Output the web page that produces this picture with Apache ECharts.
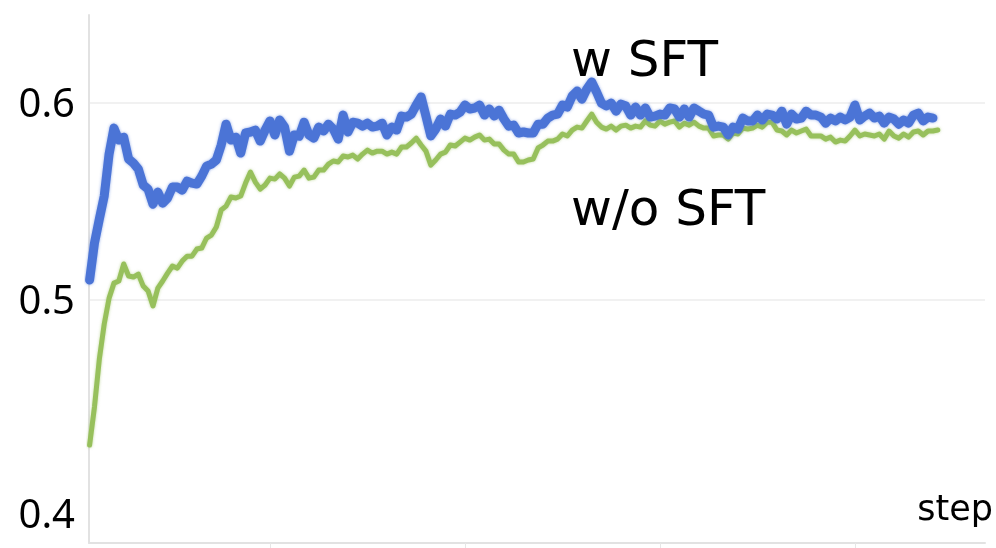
<!DOCTYPE html>
<html>
<head>
<meta charset="utf-8">
<script src="https://cdn.jsdelivr.net/npm/echarts@6/dist/echarts.min.js"></script>
<style>
html,body{margin:0;padding:0;background:#fff;}
#chart{width:996px;height:548px;}
</style>
</head>
<body>
<div id="chart"></div>
<script>
// step index of each sample (every 25 steps)
const stepStart = 75;
const stepStride = 25;

const yTickLabels = [0.4, 0.5, 0.6];
const yGridValues = [0.5, 0.6];
const xTickValues = [1000, 2000, 3000, 4000];

const seriesNames = ['w SFT', 'w/o SFT'];

const withSFT = [
0.5102,0.5289,0.5411,0.5528,0.5741,0.5873,0.5812,0.5827,0.5716,0.5695,
0.5665,0.5584,0.5563,0.5487,0.5548,0.5492,0.5518,0.5574,0.5574,0.5558,
0.5604,0.5594,0.5589,0.5629,0.5680,0.5690,0.5711,0.5787,0.5893,0.5812,
0.5827,0.5746,0.5848,0.5853,0.5863,0.5807,0.5863,0.5909,0.5838,0.5914,
0.5878,0.5756,0.5838,0.5832,0.5903,0.5838,0.5822,0.5878,0.5858,0.5893,
0.5868,0.5817,0.5939,0.5853,0.5903,0.5898,0.5883,0.5898,0.5878,0.5883,
0.5898,0.5838,0.5878,0.5863,0.5934,0.5929,0.5944,0.5990,0.6031,0.5934,
0.5833,0.5868,0.5919,0.5883,0.5944,0.5939,0.5954,0.5990,0.5970,0.5975,
0.5990,0.5939,0.5970,0.5934,0.5964,0.5919,0.5883,0.5888,0.5848,0.5853,
0.5848,0.5848,0.5893,0.5893,0.5924,0.5939,0.5944,0.5990,0.5980,0.6036,
0.6061,0.6020,0.6071,0.6107,0.6056,0.6000,0.5985,0.6000,0.5959,0.5995,
0.5985,0.5939,0.5980,0.5939,0.5975,0.5929,0.5934,0.5944,0.5939,0.5975,
0.5970,0.5929,0.5970,0.5929,0.5975,0.5959,0.5944,0.5939,0.5878,0.5883,
0.5878,0.5838,0.5878,0.5868,0.5924,0.5909,0.5909,0.5939,0.5914,0.5944,
0.5939,0.5919,0.5959,0.5893,0.5944,0.5919,0.5924,0.5959,0.5939,0.5939,
0.5929,0.5898,0.5924,0.5909,0.5929,0.5914,0.5929,0.5990,0.5914,0.5934,
0.5949,0.5924,0.5934,0.5898,0.5929,0.5919,0.5893,0.5914,0.5898,0.5939,
0.5949,0.5909,0.5929,0.5924
];

const withoutSFT = [
0.4264,0.4457,0.4700,0.4878,0.5010,0.5086,0.5097,0.5183,0.5122,0.5117,
0.5132,0.5071,0.5046,0.4970,0.5061,0.5097,0.5137,0.5173,0.5162,0.5198,
0.5223,0.5223,0.5259,0.5264,0.5315,0.5330,0.5371,0.5457,0.5477,0.5523,
0.5518,0.5528,0.5594,0.5650,0.5599,0.5563,0.5584,0.5619,0.5614,0.5640,
0.5619,0.5579,0.5624,0.5629,0.5660,0.5619,0.5624,0.5660,0.5660,0.5690,
0.5706,0.5701,0.5731,0.5726,0.5736,0.5716,0.5741,0.5761,0.5746,0.5756,
0.5756,0.5741,0.5751,0.5741,0.5777,0.5777,0.5797,0.5822,0.5787,0.5756,
0.5685,0.5711,0.5741,0.5751,0.5787,0.5782,0.5802,0.5822,0.5812,0.5827,
0.5838,0.5812,0.5817,0.5792,0.5792,0.5761,0.5741,0.5741,0.5701,0.5701,
0.5711,0.5716,0.5772,0.5787,0.5807,0.5807,0.5817,0.5843,0.5833,0.5863,
0.5878,0.5873,0.5909,0.5944,0.5903,0.5878,0.5868,0.5883,0.5863,0.5883,
0.5888,0.5873,0.5883,0.5878,0.5909,0.5888,0.5883,0.5909,0.5893,0.5903,
0.5909,0.5878,0.5898,0.5888,0.5903,0.5883,0.5873,0.5873,0.5833,0.5838,
0.5838,0.5817,0.5848,0.5843,0.5873,0.5868,0.5873,0.5888,0.5878,0.5903,
0.5903,0.5863,0.5858,0.5838,0.5863,0.5848,0.5858,0.5868,0.5833,0.5833,
0.5833,0.5817,0.5827,0.5802,0.5812,0.5807,0.5833,0.5863,0.5833,0.5843,
0.5838,0.5833,0.5843,0.5817,0.5858,0.5833,0.5822,0.5843,0.5827,0.5853,
0.5858,0.5838,0.5858,0.5858,0.5863
];

function pairs(vals) {
  return vals.map((v, i) => [stepStart + stepStride * i, v]);
}

const chart = echarts.init(document.getElementById('chart'), null, {renderer: 'canvas'});
chart.setOption({
  animation: false,
  backgroundColor: '#ffffff',
  grid: {left: 89, right: 11, top: 15, bottom: 5, containLabel: false},
  xAxis: {
    type: 'value',
    min: 72,
    max: 4667,
    axisLine: {show: true, lineStyle: {color: '#e2e2e2', width: 2}},
    axisTick: {show: true, customValues: xTickValues, length: 5, lineStyle: {color: '#e6e6e6', width: 1}},
    axisLabel: {show: false},
    splitLine: {show: false}
  },
  yAxis: {
    type: 'value',
    min: 0.3767,
    max: 0.6447,
    axisLine: {show: true, lineStyle: {color: '#e2e2e2', width: 2}},
    axisTick: {show: false, customValues: yGridValues},
    splitLine: {show: true, lineStyle: {color: '#f1f1f1', width: 2}},
    axisLabel: {
      show: true,
      customValues: yTickLabels,
      margin: 14,
      formatter: function (v) {
        const s = Number(v).toFixed(1);
        return s === '0.4' ? '{low|' + s + '}' : '{n|' + s + '}';
      },
      rich: {
        n: {fontFamily: 'Noto Sans', fontSize: 40, color: '#000', padding: [6, 0, 0, 0]},
        low: {fontFamily: 'Noto Sans', fontSize: 40, color: '#000', padding: [40, 0, 0, 0]}
      }
    }
  },
  graphic: [
    {type: 'text', left: 571, top: 38, style: {text: 'w SFT', font: '50px "DejaVu Sans"', fill: '#000'}},
    {type: 'text', left: 571, top: 187, style: {text: 'w/o SFT', font: '50px "DejaVu Sans"', fill: '#000'}},
    {type: 'text', right: 3, top: 493, style: {text: 'step', font: '35px "DejaVu Sans"', fill: '#000'}}
  ],
  series: [
    {
      name: seriesNames[1],
      type: 'line',
      data: pairs(withoutSFT),
      showSymbol: false,
      symbol: 'none',
      lineStyle: {color: '#97c05c', width: 5, join: 'round', cap: 'round', shadowColor: 'rgba(151,192,92,0.6)', shadowBlur: 3},
      z: 2
    },
    {
      name: seriesNames[0],
      type: 'line',
      data: pairs(withSFT),
      showSymbol: false,
      symbol: 'none',
      lineStyle: {color: '#4b74d6', width: 9, join: 'round', cap: 'round', shadowColor: 'rgba(75,116,214,0.6)', shadowBlur: 3},
      z: 3
    }
  ]
});
</script>
</body>
</html>
